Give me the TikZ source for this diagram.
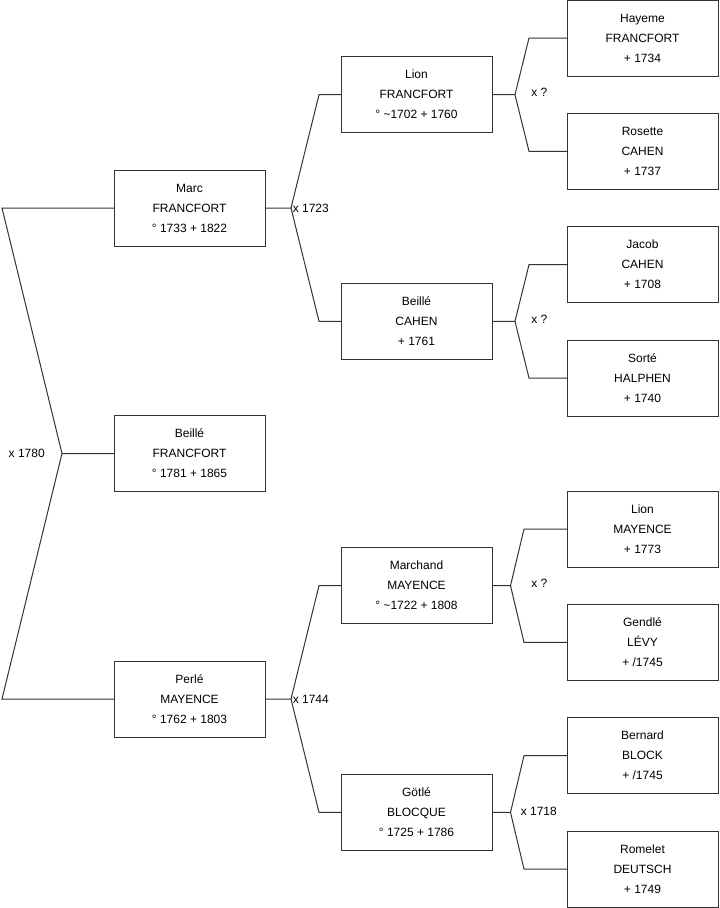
\documentclass[tikz,border=0pt]{standalone}
\usepackage{fontspec}
\setmainfont{Liberation Sans}
\usetikzlibrary{positioning, calc}
\tikzset{
    person/.style={draw=black!80, line width=0.75pt, minimum width=113.25pt, minimum height=57pt,
        inner sep=0pt, outer sep=0pt, align=center, font=\fontsize{9}{15}\selectfont}, % one box per person
    wed/.style={inner sep=0pt, font=\fontsize{9}{11}\selectfont}, % marriage label
    link/.style={draw=black!80, line width=0.75pt}
}

\begin{document}
\begin{tikzpicture}[x=0.75pt, y=-0.75pt, node distance=28pt]
        \useasboundingbox (0,0) rectangle (719,908);

        % grand-parents
        \node[person] (hayeme) at (642.5,38) {Hayeme\\FRANCFORT\\+ 1734};
        \node[person] (rosette) [below=of hayeme] {Rosette\\CAHEN\\+ 1737};
        \node[person] (jacob) [below=of rosette] {Jacob\\CAHEN\\+ 1708};
        \node[person] (sorte) [below=of jacob] {Sorté\\HALPHEN\\+ 1740};
        \node[person] (lionM) [below=56.25pt of sorte] {Lion\\MAYENCE\\+ 1773};
        \node[person] (gendle) [below=of lionM] {Gendlé\\LÉVY\\+ /1745};
        \node[person] (bernard) [below=of gendle] {Bernard\\BLOCK\\+ /1745};
        \node[person] (romelet) [below=of bernard] {Romelet\\DEUTSCH\\+ 1749};

        % parents
        \coordinate (m1) at ($(hayeme.west)!.5!(rosette.west)$);
        \coordinate (m2) at ($(jacob.west)!.5!(sorte.west)$);
        \coordinate (m3) at ($(lionM.west)!.5!(gendle.west)$);
        \coordinate (m4) at ($(bernard.west)!.5!(romelet.west)$);
        \node[person] (lionF) [left=56.25pt of m1] {Lion\\FRANCFORT\\° \textasciitilde1702 + 1760};
        \node[person] (beilleC) [left=56.25pt of m2] {Beillé\\CAHEN\\+ 1761};
        \node[person] (marchand) [left=56.25pt of m3] {Marchand\\MAYENCE\\° \textasciitilde1722 + 1808};
        \node[person] (gotle) [left=56.25pt of m4] {Götlé\\BLOCQUE\\° 1725 + 1786};

        % couple and child
        \coordinate (m5) at ($(lionF.west)!.5!(beilleC.west)$);
        \coordinate (m6) at ($(marchand.west)!.5!(gotle.west)$);
        \node[person] (marc) [left=57pt of m5] {Marc\\FRANCFORT\\° 1733 + 1822};
        \node[person] (perle) [left=57pt of m6] {Perlé\\MAYENCE\\° 1762 + 1803};
        \coordinate (m7) at ($(marc.west)!.5!(perle.west)$);
        \node[person, anchor=west] (beilleF) at (m7) {Beillé\\FRANCFORT\\° 1781 + 1865};

        % marriages
        \coordinate (jLion) at ($(lionF.east)+(23,0)$);
        \draw[link] (lionF.east) -- (jLion) -- ($(hayeme.west)+(-38,0)$) -- (hayeme.west);
        \draw[link] (jLion) -- ($(rosette.west)+(-38,0)$) -- (rosette.west);
        \node[wed, anchor=west] (wLion) at ($(jLion)+(16,-2)$) {x ?};

        \coordinate (jBeille) at ($(beilleC.east)+(23,0)$);
        \draw[link] (beilleC.east) -- (jBeille) -- ($(jacob.west)+(-38,0)$) -- (jacob.west);
        \draw[link] (jBeille) -- ($(sorte.west)+(-38,0)$) -- (sorte.west);
        \node[wed, anchor=west] (wBeille) at ($(jBeille)+(16,-2)$) {x ?};

        \coordinate (jMarchand) at ($(marchand.east)+(18.5,0)$);
        \draw[link] (marchand.east) -- (jMarchand) -- ($(lionM.west)+(-43,0)$) -- (lionM.west);
        \draw[link] (jMarchand) -- ($(gendle.west)+(-43,0)$) -- (gendle.west);
        \node[wed, anchor=west] (wMarchand) at ($(jMarchand)+(20.5,-2)$) {x ?};

        \coordinate (jGotle) at ($(gotle.east)+(18.5,0)$);
        \draw[link] (gotle.east) -- (jGotle) -- ($(bernard.west)+(-43,0)$) -- (bernard.west);
        \draw[link] (jGotle) -- ($(romelet.west)+(-43,0)$) -- (romelet.west);
        \node[wed, anchor=west] (wGotle) at ($(jGotle)+(10,-1)$) {x 1718};

        \coordinate (jMarc) at ($(marc.east)+(26,0)$);
        \draw[link] (marc.east) -- (jMarc) -- ($(lionF.west)+(-22,0)$) -- (lionF.west);
        \draw[link] (jMarc) -- ($(beilleC.west)+(-22,0)$) -- (beilleC.west);
        \node[wed, anchor=west] (wMarc) at ($(jMarc)+(1.5,0)$) {x 1723};

        \coordinate (jPerle) at ($(perle.east)+(26,0)$);
        \draw[link] (perle.east) -- (jPerle) -- ($(marchand.west)+(-22,0)$) -- (marchand.west);
        \draw[link] (jPerle) -- ($(gotle.west)+(-22,0)$) -- (gotle.west);
        \node[wed, anchor=west] (wPerle) at ($(jPerle)+(1.5,0)$) {x 1744};

        \coordinate (jBeilleF) at ($(beilleF.west)+(-52,0)$);
        \draw[link] (beilleF.west) -- (jBeilleF) -- ($(marc.west)+(-112,0)$) -- (marc.west);
        \draw[link] (jBeilleF) -- ($(perle.west)+(-112,0)$) -- (perle.west);
        \node[wed, anchor=east] (wBeilleF) at ($(jBeilleF)+(-17,0)$) {x 1780};
    \end{tikzpicture}
\end{document}
